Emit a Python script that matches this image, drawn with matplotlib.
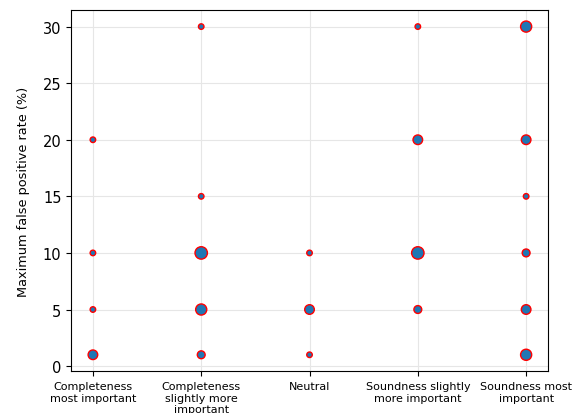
import matplotlib
matplotlib.use("Agg")
import matplotlib.pyplot as plt

categories = ["Completeness\nmost important",
              "Completeness\nslightly more\nimportant",
              "Neutral",
              "Soundness slightly\nmore important",
              "Soundness most\nimportant"]

# (category index, max false positive rate, number of responses)
cat_idx = [0, 0, 0, 0,
           1, 1, 1, 1, 1,
           2, 2, 2,
           3, 3, 3, 3,
           4, 4, 4, 4, 4, 4]
fp_rate = [20, 10, 5, 1,
           30, 15, 10, 5, 1,
           10, 5, 1,
           30, 20, 10, 5,
           30, 20, 15, 10, 5, 1]
counts = [1, 1, 1, 3,
          1, 1, 5, 4, 2,
          1, 3, 1,
          1, 3, 5, 2,
          4, 3, 1, 2, 3, 4]

fig = plt.figure(figsize=(5.84, 4.14), dpi=100)
ax = fig.add_axes([0.122, 0.101, 0.816, 0.872])
ax.scatter(cat_idx, fp_rate, s=[16 * c for c in counts],
           color="#1f77b4", edgecolors="red", linewidths=1.0, zorder=3)
ax.set_xticks(range(len(categories)))
ax.set_xticklabels(categories, fontsize=8)
ax.set_ylabel("Maximum false positive rate (%)", fontsize=9.3, labelpad=9)
ax.tick_params(axis="y", labelsize=10.5)
ax.grid(True, color="#e6e6e6", linewidth=0.8)
ax.set_axisbelow(True)
fig.savefig("out.png", dpi=100)
